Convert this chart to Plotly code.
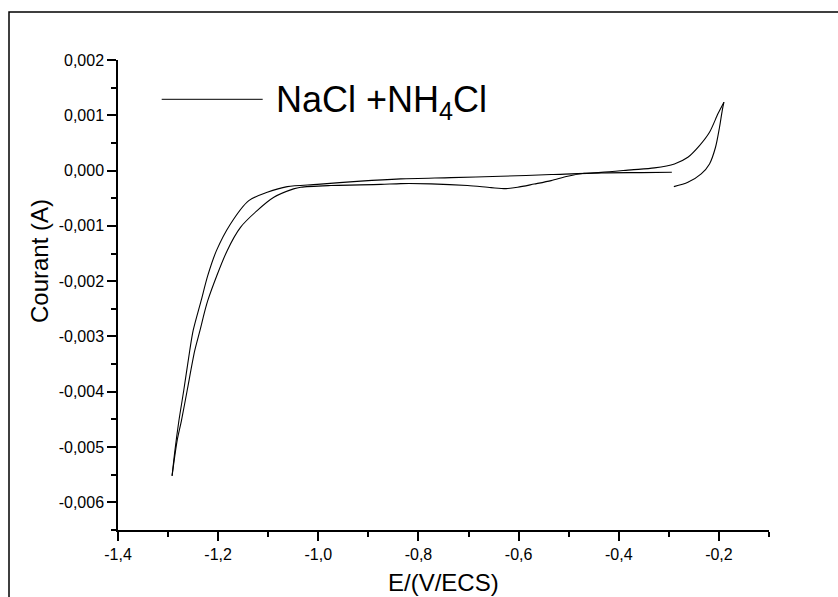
import plotly.graph_objects as go

# ---- data (E in V vs ECS, current in A) ----
# anodic start: from -0.29 V up to the vertex at -0.19 V
E_start = [-0.290, -0.262, -0.2354, -0.2188, -0.2068, -0.1988, -0.1934, -0.190]
I_start = [-0.29e-3, -0.212e-3, -0.06e-3, 0.121e-3, 0.422e-3, 0.784e-3, 1.086e-3, 1.236e-3]

# cathodic sweep: from the anodic vertex down to the cathodic vertex
E_cath = [-0.190, -0.202, -0.2188, -0.2388, -0.262, -0.2888, -0.3288, -0.3754, -0.435, -0.469,
          -0.502, -0.535, -0.569, -0.602, -0.625, -0.655, -0.702, -0.775, -0.835, -0.875,
          -0.975, -1.035, -1.0494, -1.0888, -1.1222, -1.1554, -1.182, -1.2208, -1.2364,
          -1.2468, -1.262, -1.2734, -1.282, -1.292]
I_cath = [1.236e-3, 1.026e-3, 0.693e-3, 0.452e-3, 0.241e-3, 0.121e-3, 0.049e-3, 0.013e-3, -0.033e-3,
          -0.049e-3, -0.103e-3, -0.181e-3, -0.244e-3, -0.302e-3, -0.326e-3, -0.308e-3,
          -0.271e-3, -0.24e-3, -0.235e-3, -0.25e-3, -0.27e-3, -0.30e-3, -0.331e-3,
          -0.483e-3, -0.724e-3, -1.026e-3, -1.448e-3, -2.353e-3, -2.896e-3, -3.258e-3,
          -3.982e-3, -4.525e-3, -4.887e-3, -5.52e-3]

# return (anodic) sweep: from the cathodic vertex back to -0.294 V
E_ret = [-1.292, -1.2864, -1.2784, -1.2688, -1.2568, -1.250, -1.234, -1.2208, -1.2034, -1.1754,
         -1.1388, -1.102, -1.062, -1.002, -0.9154, -0.8354, -0.735, -0.6354, -0.535,
         -0.4354, -0.355, -0.294]
I_ret = [-5.52e-3, -5.068e-3, -4.525e-3, -3.982e-3, -3.258e-3, -2.896e-3, -2.353e-3, -1.9e-3,
         -1.448e-3, -0.965e-3, -0.543e-3, -0.393e-3, -0.29e-3, -0.25e-3, -0.19e-3,
         -0.15e-3, -0.127e-3, -0.103e-3, -0.072e-3, -0.042e-3, -0.036e-3, -0.031e-3]

x_tickvals = [-1.4, -1.2, -1.0, -0.8, -0.6, -0.4, -0.2]
x_ticktext = ["-1,4", "-1,2", "-1,0", "-0,8", "-0,6", "-0,4", "-0,2"]
y_tickvals = [-0.006, -0.005, -0.004, -0.003, -0.002, -0.001, 0.0, 0.001, 0.002]
y_ticktext = ["-0,006", "-0,005", "-0,004", "-0,003", "-0,002", "-0,001", "0,000", "0,001", "0,002"]

series_name = "NaCl +NH<sub>4</sub>Cl"
x_title = "E/(V/ECS)"
y_title = "Courant (A)"

FONT = "Liberation Sans, Arial, sans-serif"

fig = go.Figure()
for ex, iy in ((E_start, I_start), (E_cath, I_cath), (E_ret, I_ret)):
    fig.add_trace(go.Scatter(x=ex, y=iy, mode="lines",
                             line=dict(color="black", width=1.1, shape="spline", smoothing=0.8),
                             showlegend=False, hoverinfo="skip"))

L, R, T, B = 118, 69, 60, 67
W, H = 838, 597
pw, ph = W - L - R, H - T - B


def px(xp):
    return (xp - L) / pw


def py(yp):
    return (H - B - yp) / ph


axis_common = dict(showline=True, linecolor="black", linewidth=1.5, mirror=False,
                   ticks="outside", ticklen=9, tickwidth=1.5, tickcolor="black",
                   showgrid=False, zeroline=False,
                   tickfont=dict(family=FONT, size=16, color="black"))

fig.update_xaxes(range=[-1.4, -0.1], tickmode="array", tickvals=x_tickvals,
                 ticktext=x_ticktext,
                 minor=dict(ticks="outside", ticklen=5, tickwidth=1.5, tickcolor="black",
                            dtick=0.1, tick0=-1.4, showgrid=False),
                 **axis_common)
fig.update_yaxes(range=[-0.0065, 0.002], tickmode="array", tickvals=y_tickvals,
                 ticktext=y_ticktext,
                 minor=dict(ticks="outside", ticklen=5, tickwidth=1.5, tickcolor="black",
                            dtick=0.0005, tick0=0.0, showgrid=False),
                 **axis_common)

shapes = [
    # outer frame
    dict(type="rect", xref="paper", yref="paper",
         x0=px(9), x1=px(850), y0=py(610), y1=py(12),
         line=dict(color="black", width=1.5)),
    # legend sample line
    dict(type="line", xref="paper", yref="paper",
         x0=px(161.7), x1=px(262.7), y0=py(99.3), y1=py(99.3),
         line=dict(color="black", width=1)),
]

annotations = [
    dict(text=series_name, xref="paper", yref="paper", x=px(274), y=py(102),
         xanchor="left", yanchor="middle", showarrow=False,
         font=dict(family=FONT, size=36, color="black")),
    dict(text=x_title, xref="paper", yref="paper", x=0.5, y=py(582),
         xanchor="center", yanchor="middle", showarrow=False,
         font=dict(family=FONT, size=24, color="black")),
    dict(text=y_title, xref="paper", yref="paper", x=px(39), y=py(261),
         xanchor="center", yanchor="middle", showarrow=False, textangle=-90,
         font=dict(family=FONT, size=24, color="black")),
]

fig.update_layout(width=W, height=H, margin=dict(l=L, r=R, t=T, b=B, autoexpand=False),
                  paper_bgcolor="white", plot_bgcolor="white",
                  shapes=shapes, annotations=annotations, showlegend=False,
                  font=dict(family=FONT, color="black"))

fig.write_html("out.html")
